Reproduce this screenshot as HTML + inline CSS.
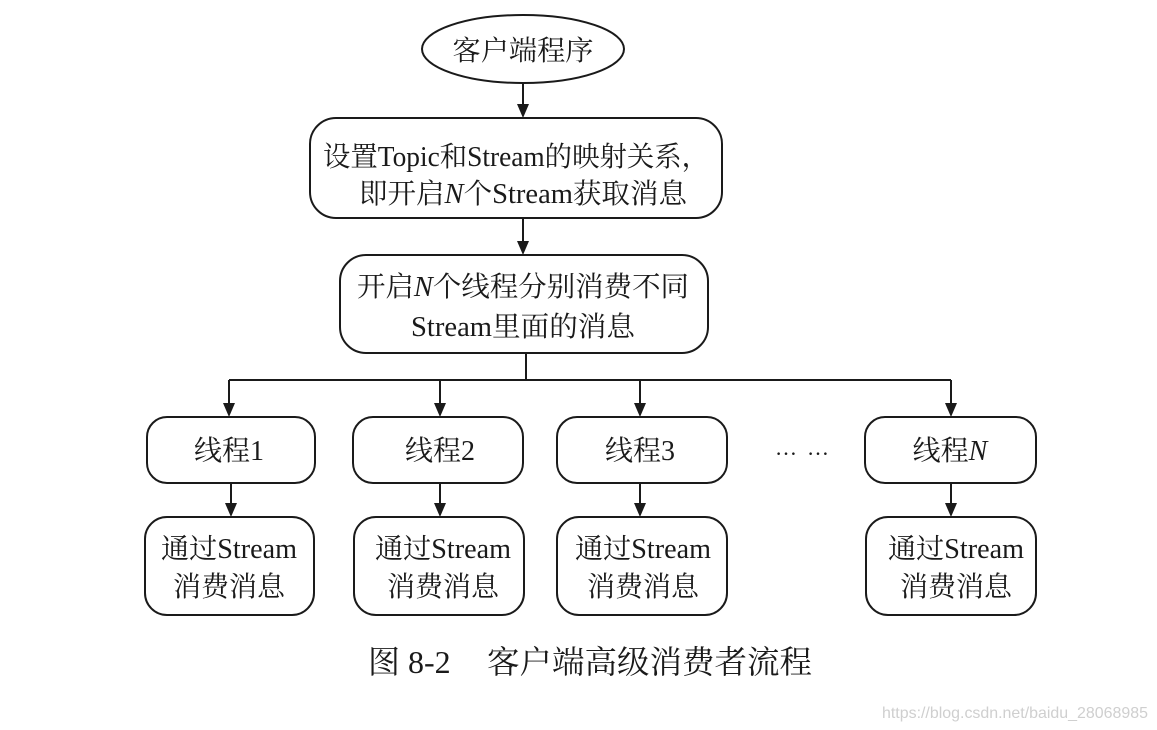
<!DOCTYPE html>
<html><head><meta charset="utf-8"><style>
html,body{margin:0;padding:0;background:#fff;}
svg{display:block;}
text{font-family:"Liberation Serif","Noto Serif CJK SC",serif;fill:#1a1a1a;}
</style></head><body>
<svg width="1157" height="730" viewBox="0 0 1157 730" xmlns="http://www.w3.org/2000/svg">
<defs><marker id="a" markerWidth="10" markerHeight="14" refX="5" refY="14" orient="auto" markerUnits="userSpaceOnUse" viewBox="0 0 10 14"><path d="M0,0 L10,0 L5,14 Z" transform="rotate(-90 5 7)" fill="#1a1a1a"/></marker></defs>
<g stroke="#1a1a1a" stroke-width="2" fill="none">
<ellipse cx="523" cy="49" rx="101" ry="34"/>
<rect x="310" y="118" width="412" height="100" rx="26"/>
<rect x="340" y="255" width="368" height="98" rx="26"/>
<rect x="147" y="417" width="168" height="66" rx="20"/>
<rect x="353" y="417" width="170" height="66" rx="20"/>
<rect x="557" y="417" width="170" height="66" rx="20"/>
<rect x="865" y="417" width="171" height="66" rx="20"/>
<rect x="145" y="517" width="169" height="98" rx="22"/>
<rect x="354" y="517" width="170" height="98" rx="22"/>
<rect x="557" y="517" width="170" height="98" rx="22"/>
<rect x="866" y="517" width="170" height="98" rx="22"/>
<path d="M523 83V106M523 218V243M526 353V380M229 380H951M229 380V405M440 380V405M640 380V405M951 380V405M231 483V505M440 483V505M640 483V505M951 483V505"/>
</g>
<g fill="#1a1a1a">
<path d="M517 104h12l-6 14z"/><path d="M517 241h12l-6 14z"/>
<path d="M223 403h12l-6 14z"/><path d="M434 403h12l-6 14z"/><path d="M634 403h12l-6 14z"/><path d="M945 403h12l-6 14z"/>
<path d="M225 503h12l-6 14z"/><path d="M434 503h12l-6 14z"/><path d="M634 503h12l-6 14z"/><path d="M945 503h12l-6 14z"/>
</g>
<g font-size="28" text-anchor="middle">
<text x="523" y="60" textLength="141" lengthAdjust="spacingAndGlyphs">客户端程序</text>
<text x="516" y="166" textLength="386" lengthAdjust="spacingAndGlyphs">设置Topic和Stream的映射关系，</text>
<text x="523" y="203" textLength="328" lengthAdjust="spacingAndGlyphs">即开启<tspan font-style="italic">N</tspan>个Stream获取消息</text>
<text x="523" y="296" textLength="332" lengthAdjust="spacingAndGlyphs">开启<tspan font-style="italic">N</tspan>个线程分别消费不同</text>
<text x="523" y="336" textLength="224" lengthAdjust="spacingAndGlyphs">Stream里面的消息</text>
<text x="229" y="460">线程1</text>
<text x="440" y="460">线程2</text>
<text x="640" y="460">线程3</text>
<text x="950" y="460">线程<tspan font-style="italic">N</tspan></text>
<text x="229" y="558" textLength="136" lengthAdjust="spacingAndGlyphs">通过Stream</text>
<text x="229" y="596">消费消息</text>
<text x="443" y="558" textLength="136" lengthAdjust="spacingAndGlyphs">通过Stream</text>
<text x="443" y="596">消费消息</text>
<text x="643" y="558" textLength="136" lengthAdjust="spacingAndGlyphs">通过Stream</text>
<text x="643" y="596">消费消息</text>
<text x="956" y="558" textLength="136" lengthAdjust="spacingAndGlyphs">通过Stream</text>
<text x="956" y="596">消费消息</text>
</g>
<text x="775" y="455" font-size="22" textLength="54" lengthAdjust="spacing">……</text>
<text x="368" y="673" font-size="32">图 8-2</text>
<text x="487" y="673" font-size="32" textLength="325" lengthAdjust="spacingAndGlyphs">客户端高级消费者流程</text>
<text x="882" y="718" font-size="16" fill="#c8c8c8" style="font-family:'Liberation Sans',sans-serif;fill:#cfcfcf" textLength="266" lengthAdjust="spacingAndGlyphs">https://blog.csdn.net/baidu_28068985</text>
</svg>
</body></html>
